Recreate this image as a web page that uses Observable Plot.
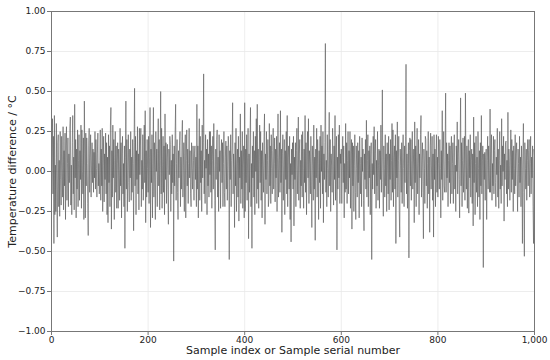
<!DOCTYPE html>
<html>
<head>
<meta charset="utf-8">
<script src="https://cdn.jsdelivr.net/npm/d3@7"></script>
<script src="https://cdn.jsdelivr.net/npm/@observablehq/plot@0.6"></script>
<style>
  html, body { margin: 0; padding: 0; background: #fff; }
  svg { display: block; }
</style>
</head>
<body>
<div id="chart"></div>
<script>
// Temperature difference (°C) per sample in blocks of 100 samples
const seg0 = [-0.11,0.09,0.33,-0.14,0.22,-0.45,0.35,-0.27,0.04,-0.25,0.30,-0.11,-0.41,0.18,0.23,-0.22,0.07,-0.28,0.25,-0.05,-0.21,0.22,0.02,-0.16,0.28,-0.24,0.13,-0.09,0.24,-0.30,0.16,0.28,-0.18,0.05,0.21,-0.22,0.11,-0.07,0.27,0.34,-0.21,0.04,-0.27,0.18,0.35,-0.14,0.09,-0.24,0.42,-0.04,0.20,-0.29,0.14,-0.11,0.26,-0.22,0.07,0.23,-0.18,0.13,-0.05,0.29,-0.23,0.26,0.00,-0.14,0.21,-0.30,0.44,0.11,-0.29,0.24,-0.09,0.21,0.05,-0.20,-0.40,0.16,0.27,-0.13,0.09,0.23,-0.16,0.04,0.18,-0.07,0.14,-0.13,0.12,-0.04,0.25,-0.11,0.20,0.02,-0.16,0.11,0.24,-0.09,0.05,-0.14];
const seg1 = [0.07,0.26,-0.18,0.14,-0.09,0.27,-0.25,0.04,0.22,-0.19,0.11,-0.05,0.24,-0.14,0.18,-0.27,0.09,-0.32,0.23,-0.07,0.16,-0.22,0.29,0.40,-0.36,0.13,-0.16,0.29,-0.04,0.20,-0.30,0.07,0.25,-0.13,0.16,-0.23,0.05,0.18,-0.23,0.14,0.02,-0.18,0.27,-0.09,0.18,-0.29,0.11,0.22,-0.14,0.05,-0.22,0.16,-0.48,0.09,0.44,-0.11,0.20,-0.25,0.04,0.23,-0.07,-0.19,0.14,-0.04,0.25,-0.18,0.09,-0.13,0.20,0.05,-0.37,0.18,0.52,-0.09,0.22,-0.27,0.13,-0.05,0.28,-0.14,0.11,-0.24,0.27,-0.02,0.16,0.27,-0.22,0.07,-0.11,0.23,-0.18,0.04,0.29,-0.07,0.38,-0.32,0.13,-0.16,0.20,0.02];
const seg2 = [-0.13,0.22,-0.20,0.09,0.40,-0.35,0.14,-0.07,0.23,-0.29,0.05,0.40,-0.16,0.18,-0.04,-0.30,0.25,0.00,0.14,-0.22,0.11,0.33,-0.09,0.20,-0.24,0.07,0.50,-0.14,0.27,-0.23,0.04,0.22,-0.13,0.16,-0.27,0.36,-0.05,0.18,-0.20,0.09,0.17,-0.11,-0.33,0.14,-0.02,0.22,0.17,-0.25,0.07,-0.14,0.23,-0.07,0.11,-0.56,0.16,-0.09,0.25,0.42,-0.18,0.05,0.20,-0.13,-0.30,0.13,-0.04,0.16,0.25,-0.22,0.09,-0.11,0.22,0.32,-0.16,0.04,0.18,-0.25,0.11,0.23,-0.29,0.07,0.26,-0.09,0.14,-0.20,0.05,0.27,-0.04,0.13,-0.14,-0.22,0.18,0.02,-0.11,0.16,0.07,-0.18,0.11,0.16,-0.05,0.09];
const seg3 = [-0.22,0.42,-0.11,0.16,-0.29,0.09,0.33,-0.18,0.22,-0.07,0.13,-0.25,0.29,-0.04,0.18,0.61,-0.14,0.07,-0.20,0.23,0.02,0.14,-0.27,0.20,-0.09,0.11,-0.16,0.25,-0.02,0.25,-0.13,0.16,-0.23,0.07,0.22,-0.11,0.30,0.04,-0.18,-0.49,0.14,-0.05,0.20,0.26,-0.16,0.09,-0.25,0.23,0.00,0.13,-0.23,0.11,0.20,-0.07,0.18,-0.22,0.05,0.25,-0.13,-0.22,0.09,0.19,-0.11,0.16,-0.18,0.04,0.22,0.15,-0.55,0.13,-0.05,0.23,-0.22,0.07,0.16,0.43,-0.14,0.11,0.02,-0.35,0.18,-0.09,0.27,-0.25,0.05,0.14,-0.16,0.22,-0.31,0.09,-0.04,0.36,-0.20,0.13,-0.11,0.25,-0.23,0.04,0.16,-0.29];
const seg4 = [0.43,-0.25,0.14,-0.07,0.23,-0.18,0.09,0.27,-0.42,0.11,-0.13,0.20,0.40,-0.22,0.05,-0.48,0.16,-0.04,0.25,-0.16,0.13,-0.27,0.22,0.00,0.33,-0.20,0.42,-0.11,0.14,-0.23,0.09,0.29,-0.07,0.25,-0.18,0.13,-0.29,0.18,0.04,-0.13,0.22,0.36,-0.33,0.11,-0.05,0.25,-0.14,0.07,0.20,-0.22,-0.17,0.30,-0.09,0.16,-0.20,0.23,0.02,-0.14,0.13,0.27,-0.11,0.05,0.21,-0.19,0.14,-0.04,0.22,-0.25,0.09,0.36,-0.16,0.07,0.18,-0.13,0.38,-0.07,0.14,-0.38,0.11,0.23,-0.18,0.04,0.20,-0.27,0.13,-0.05,0.25,-0.14,0.35,-0.22,0.09,0.16,-0.11,0.22,-0.30,0.05,-0.44,0.14,-0.02,0.18];
const seg5 = [-0.11,0.22,-0.34,0.09,-0.05,0.18,-0.22,0.13,0.27,-0.14,0.04,0.34,-0.18,0.11,0.20,-0.23,0.07,-0.09,0.23,-0.16,0.25,0.02,-0.23,0.14,-0.07,0.35,-0.13,0.18,-0.27,0.11,0.25,-0.04,0.33,-0.20,0.13,0.05,-0.14,0.22,-0.09,-0.35,0.16,0.04,-0.18,0.29,-0.11,0.09,-0.43,0.14,-0.04,0.27,-0.16,0.20,0.05,-0.30,0.13,-0.07,0.22,-0.23,0.29,0.00,0.16,-0.14,0.25,-0.32,0.11,-0.05,0.18,0.80,-0.13,0.07,-0.22,0.23,0.02,-0.16,0.14,0.37,-0.09,0.20,-0.25,0.11,0.04,-0.13,0.27,0.07,-0.21,0.16,-0.05,0.35,-0.18,0.13,0.22,-0.49,0.09,-0.11,0.23,-0.04,0.29,-0.20,0.11,0.05];
const seg6 = [0.14,-0.20,0.09,0.22,-0.07,0.16,-0.29,0.05,-0.13,0.30,-0.11,0.18,-0.20,0.07,0.25,-0.14,0.13,-0.04,0.25,-0.23,0.11,0.20,-0.36,0.18,-0.09,0.16,-0.25,0.04,0.23,-0.13,-0.30,0.16,0.02,-0.16,0.18,-0.07,0.13,-0.29,0.22,0.05,-0.14,0.09,-0.22,0.21,0.00,0.14,-0.18,-0.37,0.11,-0.05,0.20,-0.11,0.32,-0.16,0.07,0.23,-0.22,0.13,-0.04,0.16,-0.27,0.09,0.18,-0.55,0.05,-0.11,0.22,-0.02,0.28,-0.14,0.11,0.20,-0.23,0.07,-0.09,0.25,-0.18,0.04,0.14,-0.23,0.13,-0.05,0.29,-0.13,0.09,0.51,-0.07,-0.28,0.16,0.02,-0.16,0.23,-0.09,0.11,-0.25,0.18,0.04,-0.14,0.22,-0.24];
const seg7 = [0.11,-0.05,0.20,-0.18,0.07,0.30,-0.13,0.26,-0.22,0.09,0.16,-0.11,0.23,-0.45,0.13,-0.04,0.31,-0.16,0.07,0.22,-0.25,-0.41,0.14,0.04,-0.13,0.18,-0.20,0.09,0.23,0.02,-0.22,0.16,-0.07,0.22,0.67,-0.14,0.11,-0.23,0.05,0.18,-0.54,0.13,0.21,-0.09,0.20,-0.18,0.07,0.25,-0.11,0.04,0.14,-0.32,0.31,-0.07,0.16,-0.22,0.09,0.27,-0.14,0.05,0.20,-0.27,0.11,-0.04,0.23,0.35,-0.16,0.07,0.18,-0.13,-0.42,0.14,0.02,-0.20,0.22,0.20,-0.09,0.13,-0.23,0.05,0.25,-0.14,0.09,-0.38,0.16,0.24,-0.11,0.04,0.22,-0.18,0.11,-0.41,0.23,-0.05,0.14,-0.22,0.07,0.23,-0.13,0.09];
const seg8 = [-0.16,0.22,0.05,-0.11,0.20,0.02,-0.29,0.13,-0.05,0.38,-0.18,0.09,0.25,-0.09,-0.13,0.14,0.49,-0.13,0.18,-0.04,0.11,-0.22,0.07,0.18,-0.07,0.16,-0.20,0.13,0.22,-0.14,0.05,0.18,-0.20,0.09,0.23,-0.11,0.04,-0.25,0.16,0.00,0.31,-0.14,0.11,0.20,-0.05,-0.29,0.14,0.46,-0.09,0.18,-0.22,0.07,0.21,-0.13,0.05,0.22,-0.18,0.49,0.04,-0.11,0.16,-0.23,0.09,0.20,-0.26,0.13,-0.04,0.23,-0.16,0.07,0.14,-0.20,0.11,-0.34,0.34,-0.07,0.18,-0.27,0.05,0.22,-0.13,0.09,-0.22,0.25,0.02,-0.16,0.13,-0.30,0.18,-0.09,0.35,-0.14,0.07,0.16,-0.60,0.11,-0.05,0.12,-0.18,0.09];
const seg9 = [0.14,-0.30,0.07,0.22,-0.11,0.16,-0.04,-0.13,0.39,-0.13,0.11,0.23,-0.18,0.05,-0.09,0.22,-0.14,0.13,0.20,-0.07,-0.22,0.09,-0.02,0.27,-0.16,0.14,-0.23,0.07,0.25,-0.11,0.04,-0.20,0.33,-0.09,0.16,0.00,0.22,-0.31,0.11,-0.05,0.18,0.19,-0.14,0.07,-0.22,0.37,-0.11,0.14,0.04,-0.18,0.09,0.26,-0.13,0.20,-0.05,0.13,-0.25,0.16,0.02,-0.14,0.23,-0.09,0.11,0.18,-0.04,-0.25,0.14,0.05,-0.16,0.22,-0.07,0.09,-0.22,0.16,0.04,-0.45,0.11,0.30,-0.13,-0.53,0.18,0.02,-0.11,0.14,-0.18,0.07,0.20,-0.09,0.13,0.20,-0.16,0.05,0.22,-0.14,0.09,-0.04,0.16,-0.22,-0.45,0.14,0.10];

const xTicks = [0, 200, 400, 600, 800, 1000];
const yTicks = [-1, -0.75, -0.5, -0.25, 0, 0.25, 0.5, 0.75, 1];
const xLabel = "Sample index or Sample serial number";
const yLabel = "Temperature difference / °C";

const values = [...seg0, ...seg1, ...seg2, ...seg3, ...seg4, ...seg5, ...seg6, ...seg7, ...seg8, ...seg9];
const data = values.map((v, i) => ({index: i, value: v}));

const fmtY = d => (d < 0 ? "\u2212" : "") + Math.abs(d).toFixed(2);

const chart = Plot.plot({
  width: 550,
  height: 360,
  marginLeft: 51,
  marginRight: 16,
  marginTop: 11,
  marginBottom: 29,
  style: {fontFamily: "DejaVu Sans, sans-serif", background: "#fff", color: "#222"},
  x: {domain: [0, 1000]},
  y: {domain: [-1, 1]},
  marks: [
    Plot.gridX(xTicks, {stroke: "#e8e8e8", strokeOpacity: 1, strokeWidth: 0.8}),
    Plot.gridY(yTicks, {stroke: "#e8e8e8", strokeOpacity: 1, strokeWidth: 0.8}),
    Plot.lineY(data, {x: "index", y: "value", stroke: "#555", strokeWidth: 0.6}),
    Plot.frame({stroke: "#777", strokeWidth: 1}),
    Plot.axisX(xTicks, {tickSize: 4, tickPadding: 1, fontSize: 9, label: null, stroke: "#777", fill: "#222"}),
    Plot.axisY(yTicks, {tickSize: 4, tickPadding: 2, fontSize: 9, label: null, tickFormat: fmtY, stroke: "#777", fill: "#222"}),
    Plot.text([xLabel], {frameAnchor: "bottom", dy: 22, fontSize: 11, fill: "#222", text: d => d}),
    Plot.text([yLabel], {frameAnchor: "left", textAnchor: "middle", dx: -39, rotate: -90, fontSize: 11, fill: "#222", text: d => d})
  ]
});
document.getElementById("chart").appendChild(chart);
</script>
</body>
</html>
